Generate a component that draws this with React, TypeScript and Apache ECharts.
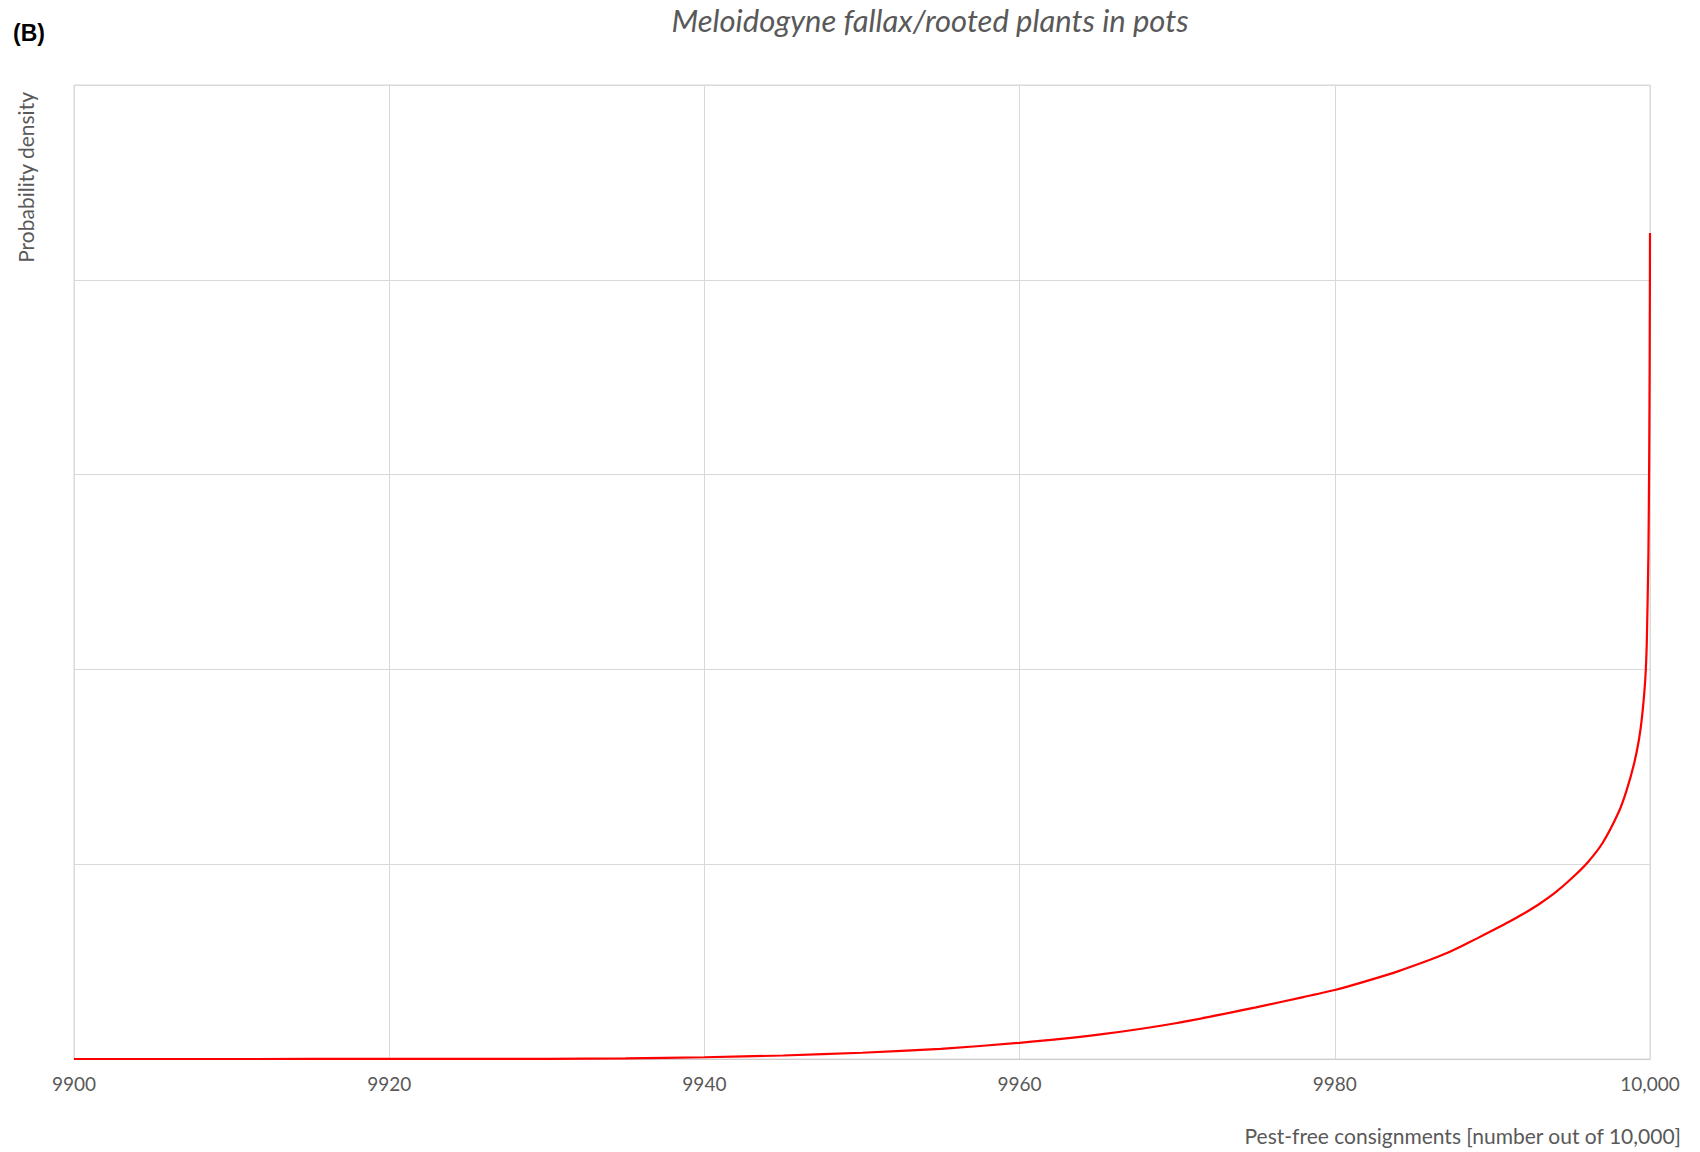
import React, { useEffect, useRef } from "react";
import * as echarts from "echarts";

const xValues = [
  9900, 9910, 9920, 9930, 9935, 9940, 9945, 9950, 9955, 9960, 9965, 9970, 9975, 9978, 9980,
  9982, 9984, 9986, 9987, 9988, 9989, 9990, 9991, 9992, 9993, 9994, 9995, 9996, 9997, 9998,
  9998.5, 9999, 9999.3, 9999.5, 9999.7, 9999.8, 9999.9, 9999.95, 9999.98, 10000,
];
const densityValues = [
  0, 0.0001, 0.0003, 0.001, 0.003, 0.009, 0.018, 0.032, 0.052, 0.083, 0.125, 0.185, 0.265,
  0.318, 0.354, 0.4, 0.45, 0.508, 0.54, 0.578, 0.618, 0.66, 0.702, 0.747, 0.797, 0.855,
  0.925, 1.005, 1.11, 1.265, 1.375, 1.52, 1.64, 1.76, 1.95, 2.15, 2.6, 3.1, 3.6, 4.24,
];
const xTicks = [9900, 9920, 9940, 9960, 9980, 10000];

const titleText = "Meloidogyne fallax/rooted plants in pots";
const panelLabel = "(B)";
const xAxisTitle = "Pest-free consignments [number out of 10,000]";
const yAxisTitle = "Probability density";

const FONT = "Lato, 'Open Sans', sans-serif";
const TEXT_COLOR = "#595959";

export default function App() {
  const ref = useRef<HTMLDivElement>(null);

  useEffect(() => {
    document.body.style.margin = "0";
    if (!ref.current) return;
    const chart = echarts.init(ref.current, undefined, { renderer: "svg" });
    const data = xValues.map((x, i) => [x, densityValues[i]]);
    chart.setOption({
      animation: false,
      backgroundColor: "#ffffff",
      grid: {
        left: 74,
        right: 50,
        top: 85,
        bottom: 93,
        show: true,
        borderColor: "#d9d9d9",
        borderWidth: 1,
      },
      xAxis: {
        type: "value",
        min: xTicks[0],
        max: xTicks[xTicks.length - 1],
        interval: 20,
        axisLine: { show: true, lineStyle: { color: "#cccccc", width: 1 } },
        axisTick: { show: false },
        splitLine: { show: true, lineStyle: { color: "#d9d9d9", width: 1 } },
        axisLabel: {
          color: TEXT_COLOR,
          fontFamily: FONT,
          fontSize: 19,
          margin: 15,
          formatter: (v: number) => (v >= 10000 ? v.toLocaleString("en-US") : String(v)),
        },
      },
      yAxis: {
        type: "value",
        min: 0,
        max: 5,
        interval: 1,
        axisLine: { show: false },
        axisTick: { show: false },
        axisLabel: { show: false },
        splitLine: { show: true, lineStyle: { color: "#d9d9d9", width: 1 } },
      },
      series: [
        {
          type: "line",
          data,
          showSymbol: false,
          smooth: 0.2,
          clip: false,
          lineStyle: { color: "#ff0000", width: 2.2 },
          itemStyle: { color: "#ff0000" },
        },
      ],
      graphic: [
        {
          type: "text",
          left: 13,
          top: 21,
          style: {
            text: panelLabel,
            font: "bold 23px Arial, 'Liberation Sans', sans-serif",
            fill: "#000000",
          },
        },
        {
          type: "text",
          x: 930,
          y: 20,
          style: {
            text: titleText,
            fontFamily: FONT,
            fontStyle: "italic",
            fontSize: 31,
            fill: TEXT_COLOR,
            textAlign: "center",
            textVerticalAlign: "middle",
          },
        },
        {
          type: "text",
          x: 1681,
          y: 1135,
          style: {
            text: xAxisTitle,
            fontFamily: FONT,
            fontSize: 21,
            fill: TEXT_COLOR,
            textAlign: "right",
            textVerticalAlign: "middle",
          },
        },
        {
          type: "text",
          x: 25,
          y: 92,
          rotation: Math.PI / 2,
          style: {
            text: yAxisTitle,
            fontFamily: FONT,
            fontSize: 21,
            fill: TEXT_COLOR,
            textAlign: "right",
            textVerticalAlign: "middle",
          },
        },
      ],
    });
    return () => chart.dispose();
  }, []);

  return <div ref={ref} style={{ width: 1700, height: 1152 }} />;
}
